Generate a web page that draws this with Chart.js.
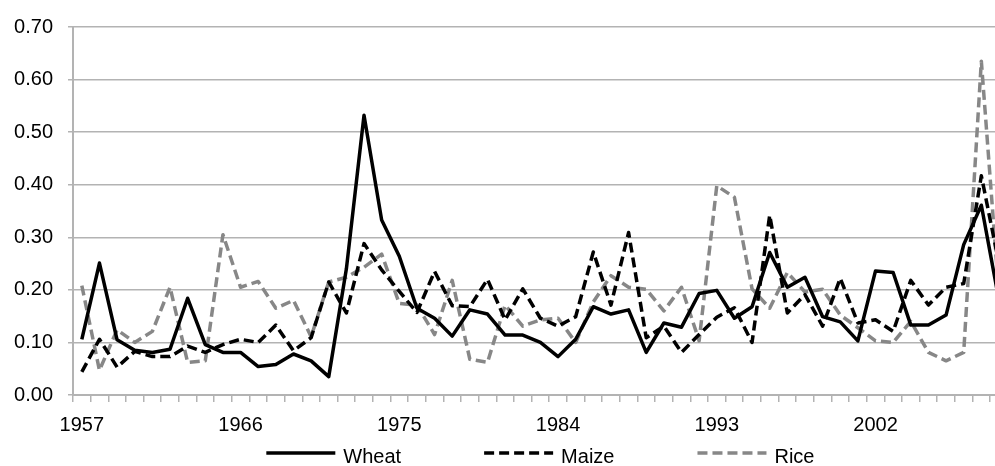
<!DOCTYPE html>
<html>
<head>
<meta charset="utf-8">
<title>Wheat, Maize and Rice</title>
<script src="https://cdn.jsdelivr.net/npm/chart.js@4/dist/chart.umd.min.js"></script>
<style>
  html, body { margin: 0; padding: 0; background: #fff; overflow: hidden; }
  #wrap { width: 1010px; height: 466px; }
</style>
</head>
<body>
<div id="wrap"><canvas id="chart" width="1010" height="466"></canvas></div>
<script>
const years = [
  '1957', '1958', '1959', '1960', '1961', '1962', '1963', '1964', '1965', '1966',
  '1967', '1968', '1969', '1970', '1971', '1972', '1973', '1974', '1975', '1976',
  '1977', '1978', '1979', '1980', '1981', '1982', '1983', '1984', '1985', '1986',
  '1987', '1988', '1989', '1990', '1991', '1992', '1993', '1994', '1995', '1996',
  '1997', '1998', '1999', '2000', '2001', '2002', '2003', '2004', '2005', '2006',
  '2007', '2008', '2009'
];

// only every 9th year gets a label
const shownYears = ['1957', '1966', '1975', '1984', '1993', '2002'];

const wheat = [
  0.106, 0.251, 0.105, 0.085, 0.081, 0.087, 0.184, 0.096, 0.081, 0.081,
  0.054, 0.058, 0.078, 0.065, 0.035, 0.240, 0.532, 0.333, 0.264, 0.165,
  0.146, 0.112, 0.162, 0.154, 0.114, 0.114, 0.100, 0.073, 0.106, 0.168,
  0.154, 0.162, 0.081, 0.137, 0.129, 0.193, 0.199, 0.146, 0.168, 0.271,
  0.205, 0.224, 0.149, 0.139, 0.103, 0.236, 0.233, 0.133, 0.133, 0.152,
  0.286, 0.361, 0.180
];

const maize = [
  0.044, 0.106, 0.053, 0.083, 0.073, 0.073, 0.093, 0.081, 0.096, 0.106,
  0.100, 0.133, 0.084, 0.109, 0.215, 0.156, 0.288, 0.238, 0.197, 0.157,
  0.235, 0.170, 0.168, 0.220, 0.143, 0.202, 0.146, 0.131, 0.149, 0.272,
  0.171, 0.309, 0.109, 0.131, 0.081, 0.115, 0.148, 0.166, 0.100, 0.342,
  0.156, 0.191, 0.131, 0.222, 0.137, 0.143, 0.121, 0.218, 0.171, 0.205,
  0.212, 0.417, 0.250
];

const rice = [
  0.208, 0.047, 0.124, 0.100, 0.121, 0.205, 0.062, 0.065, 0.305, 0.205,
  0.216, 0.165, 0.180, 0.111, 0.215, 0.224, 0.243, 0.268, 0.174, 0.171,
  0.115, 0.218, 0.068, 0.062, 0.171, 0.131, 0.143, 0.146, 0.100, 0.177,
  0.227, 0.205, 0.201, 0.160, 0.205, 0.103, 0.398, 0.376, 0.202, 0.165,
  0.233, 0.196, 0.201, 0.152, 0.128, 0.103, 0.100, 0.140, 0.081, 0.065,
  0.081, 0.635, 0.190
];

const gridGray = '#b3b3b3';
const labelFont = { family: '"Liberation Sans", Arial, sans-serif', size: 20 };

// Legend drawn under the plot: long line samples, centred on the plot area
const lineLegend = {
  id: 'lineLegend',
  afterDraw(chart) {
    const { ctx, chartArea } = chart;
    const sampleWidth = 69;
    const textGap = 8;
    const itemGap = 83;
    const lineY = chart.height - 13;

    ctx.save();
    ctx.font = labelFont.size + 'px ' + labelFont.family;
    const widths = chart.data.datasets.map(ds => sampleWidth + textGap + ctx.measureText(ds.label).width);
    const total = widths.reduce((acc, w) => acc + w, 0) + itemGap * (widths.length - 1);
    let x = (chartArea.left + chartArea.right) / 2 - total / 2;

    chart.data.datasets.forEach((ds, i) => {
      ctx.beginPath();
      ctx.setLineDash(ds.borderDash || []);
      ctx.strokeStyle = ds.borderColor;
      ctx.lineWidth = ds.borderWidth;
      ctx.moveTo(x, lineY);
      ctx.lineTo(x + sampleWidth, lineY);
      ctx.stroke();

      ctx.setLineDash([]);
      ctx.fillStyle = '#000';
      ctx.textBaseline = 'alphabetic';
      ctx.fillText(ds.label, x + sampleWidth + textGap, lineY + 10);
      x += widths[i] + itemGap;
    });
    ctx.restore();
  }
};

const ctx = document.getElementById('chart').getContext('2d');

new Chart(ctx, {
  type: 'line',
  data: {
    labels: years,
    datasets: [
      {
        label: 'Wheat',
        data: wheat,
        borderColor: '#000',
        borderWidth: 3.5
      },
      {
        label: 'Maize',
        data: maize,
        borderColor: '#000',
        borderWidth: 3.5,
        borderDash: [10, 5]
      },
      {
        label: 'Rice',
        data: rice,
        borderColor: '#878787',
        borderWidth: 3.5,
        borderDash: [10, 5]
      }
    ]
  },
  options: {
    responsive: false,
    animation: false,
    layout: { padding: { top: 20, right: 2, bottom: 29, left: 0 } },
    elements: {
      point: { radius: 0 },
      line: { tension: 0, borderJoinStyle: 'round', fill: false }
    },
    plugins: {
      legend: { display: false },
      tooltip: { enabled: false }
    },
    scales: {
      x: {
        offset: true,
        grid: {
          offset: true,
          drawOnChartArea: false,
          drawTicks: true,
          tickLength: 7,
          color: gridGray,
          lineWidth: 1.5
        },
        border: { color: gridGray, width: 2 },
        ticks: {
          autoSkip: false,
          maxRotation: 0,
          padding: 11,
          color: '#000',
          font: labelFont,
          callback: function (value) {
            const year = this.getLabelForValue(value);
            return shownYears.includes(year) ? year : '';
          }
        },
        afterFit: scale => { scale.height = 42; }
      },
      y: {
        min: 0,
        max: 0.7,
        ticks: {
          stepSize: 0.1,
          padding: 15,
          color: '#000',
          font: labelFont,
          callback: v => v.toFixed(2)
        },
        grid: { color: gridGray, lineWidth: 1.5, tickLength: 5 },
        border: { color: gridGray, width: 2 },
        afterFit: scale => { scale.width = 73; }
      }
    }
  },
  plugins: [lineLegend]
});
</script>
</body>
</html>
